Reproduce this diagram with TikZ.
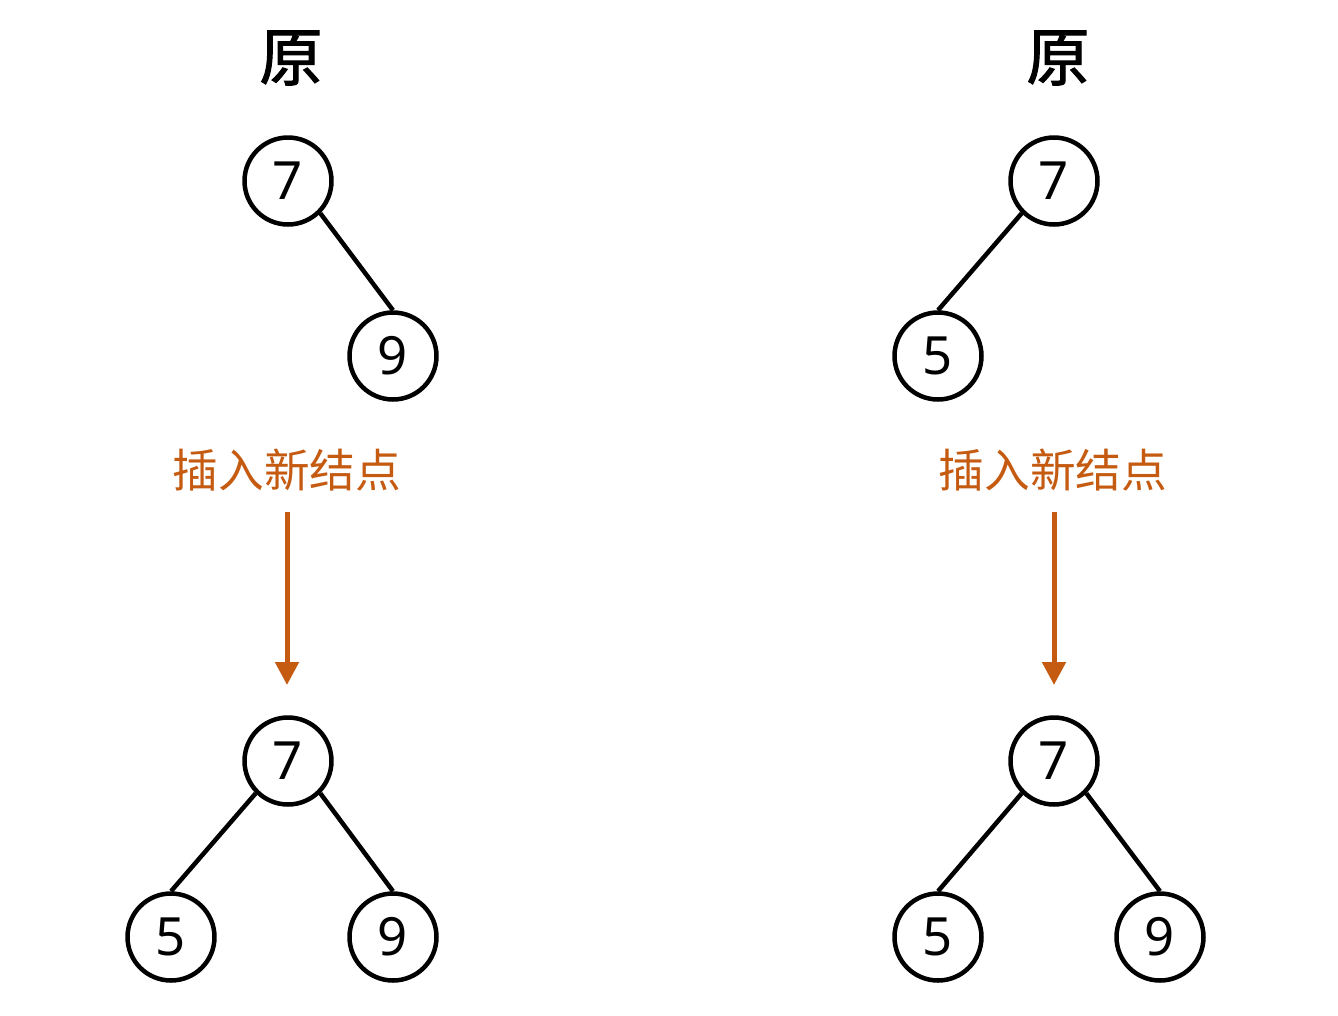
\documentclass[tikz,border=0pt]{standalone}
\usepackage{fontspec}
\setmainfont{Noto Sans}
\newfontfamily\cjk{Noto Sans CJK SC}
\newfontfamily\cjkt[FakeBold=1.6]{Noto Sans CJK SC}
\usepackage{tikz}
\usetikzlibrary{arrows.meta}
\definecolor{orangex}{HTML}{C55A11}
\tikzset{
  nd/.style={circle,draw,line width=0.09cm,minimum size=1.74cm,inner sep=0pt,font=\fontsize{30}{30}\selectfont},
  ed/.style={line width=0.09cm},
  ar/.style={-{Triangle[length=0.46cm,width=0.46cm]},line width=0.1cm,orangex},
  ttl/.style={font=\cjkt\fontsize{36}{36}\selectfont},
  lbl/.style={font=\cjk\fontsize{26}{26}\selectfont,text=orangex}
}

\begin{document}
\begin{tikzpicture}[x=0.02cm,y=-0.02cm]
\useasboundingbox (0,0) rectangle (1338,1015);
% left: 5 goes in
\node[ttl] (t1) at (291,58) {原};
\node[nd] (a7) at (288,181) {7};
\node[nd] (a9) at (393,356) {9};
\draw[ed] (a7.south east) -- (a9.north);
\node[lbl] (l1) at (287,470) {插入新结点};
\coordinate (s1) at (287,512);
\coordinate (e1) at (287,685);
\draw[ar] (s1) -- (e1);
\node[nd] (b7) at (288,761) {7};
\node[nd] (b5) at (171,937) {5};
\node[nd] (b9) at (393,937) {9};
\draw[ed] (b7.south west) -- (b5.north);
\draw[ed] (b7.south east) -- (b9.north);
% right: 9 goes in
\node[ttl] (t2) at (1058,58) {原};
\node[nd] (c7) at (1054,181) {7};
\node[nd] (c5) at (938,356) {5};
\draw[ed] (c7.south west) -- (c5.north);
\node[lbl] (l2) at (1053,470) {插入新结点};
\coordinate (s2) at (1054,512);
\coordinate (e2) at (1054,685);
\draw[ar] (s2) -- (e2);
\node[nd] (d7) at (1054,761) {7};
\node[nd] (d5) at (938,937) {5};
\node[nd] (d9) at (1160,937) {9};
\draw[ed] (d7.south west) -- (d5.north);
\draw[ed] (d7.south east) -- (d9.north);
\end{tikzpicture}
\end{document}
